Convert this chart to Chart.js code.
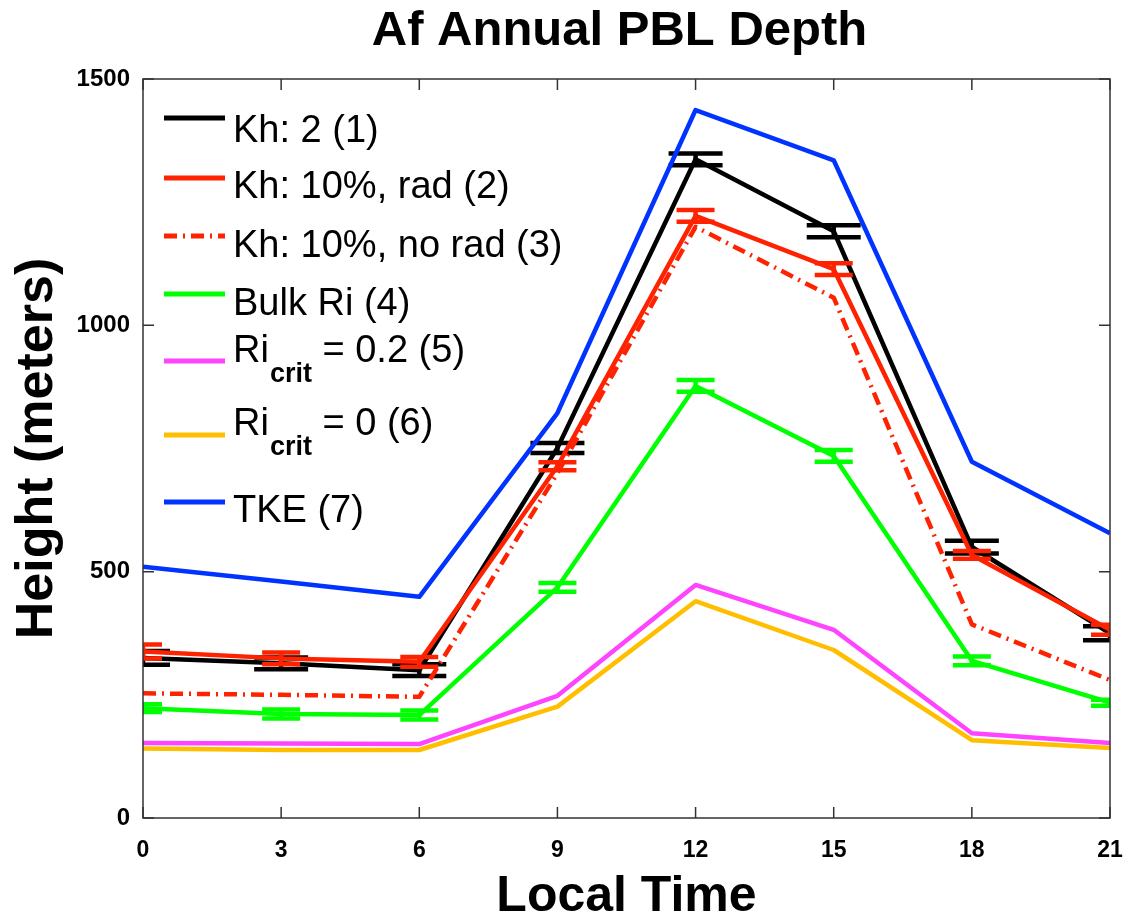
<!DOCTYPE html>
<html><head><meta charset="utf-8">
<script src="https://cdn.jsdelivr.net/npm/chart.js@4.4.0/dist/chart.umd.min.js"></script>
<style>html,body{margin:0;padding:0;background:#fff;}#wrap{width:1127px;height:922px;}</style>
</head><body><div id="wrap"><canvas id="c" width="1127" height="922"></canvas></div>
<script>
// ---- data ----
const chartTitle = 'Af Annual PBL Depth';
const hours = [0, 3, 6, 9, 12, 15, 18, 21];
const xTicks = [0, 3, 6, 9, 12, 15, 18, 21];
const yTicks = [0, 500, 1000, 1500];
const seriesLabels = ["Kh: 2 (1)", "Kh: 10%, rad (2)", "Kh: 10%, no rad (3)", "Bulk Ri (4)", "Ri_{crit} = 0.2 (5)", "Ri_{crit} = 0 (6)", "TKE (7)"];
const kh2 = [325, 314, 300, 751, 1337, 1191, 550, 375];
const kh2Err = [14, 12, 12, 10, 12, 12, 13, 14];
const kh10rad = [338, 324, 317, 714, 1222, 1114, 534, 382];
const kh10radErr = [14, 12, 10, 8, 12, 12, 8, 10];
const kh10norad = [253, 250, 246, 700, 1200, 1056, 393, 280];
const bulkRi = [223, 211, 209, 468, 877, 735, 319, 234];
const bulkRiErr = [8, 9, 9, 9, 12, 12, 9, 6];
const riCrit02 = [152, 151, 150, 248, 473, 382, 172, 152];
const riCrit0 = [141, 138, 138, 226, 440, 341, 158, 142];
const tke = [510, 480, 449, 822, 1437, 1335, 723, 578];

const FONT = "'Liberation Sans', Arial, Helvetica, sans-serif";
const pts = arr => hours.map((h, i) => ({x: h, y: arr[i]}));

const seriesDefs = [
  {vals: kh2, color: '#000000', err: kh2Err, capHalf: 27},
  {vals: kh10rad, color: '#ff2200', err: kh10radErr, capHalf: 19},
  {vals: kh10norad, color: '#ff2200', dash: [13, 6, 2, 6]},
  {vals: bulkRi, color: '#00ff00', err: bulkRiErr, capHalf: 19},
  {vals: riCrit02, color: '#ff44ff'},
  {vals: riCrit0, color: '#ffbf00'},
  {vals: tke, color: '#0033ff'}
];

const datasets = seriesDefs.map((d, i) => ({
  label: seriesLabels[i],
  data: pts(d.vals),
  borderColor: d.color,
  backgroundColor: d.color,
  borderWidth: 4.5,
  borderDash: d.dash || [],
  borderJoinStyle: 'round',
  pointRadius: 0,
  tension: 0,
  fill: false,
  order: seriesDefs.length - i,
  errors: d.err || null,
  capHalf: d.capHalf || 0
}));

// error bars drawn right after their own dataset
const errorBarPlugin = {
  id: 'errorBars',
  afterDatasetDraw(chart, args) {
    const ds = chart.data.datasets[args.index];
    if (!ds.errors) return;
    const {ctx, chartArea: a} = chart;
    const xs = chart.scales.x, ys = chart.scales.y;
    ctx.save();
    ctx.beginPath();
    ctx.rect(a.left, a.top - 10, a.right - a.left, a.bottom - a.top + 20);
    ctx.clip();
    ctx.strokeStyle = ds.borderColor;
    ctx.lineWidth = 4.5;
    ctx.lineCap = 'butt';
    ds.data.forEach((p, i) => {
      const e = ds.errors[i];
      const x = xs.getPixelForValue(p.x);
      const yt = ys.getPixelForValue(p.y + e);
      const yb = ys.getPixelForValue(p.y - e);
      ctx.beginPath();
      ctx.moveTo(x, yt); ctx.lineTo(x, yb);
      ctx.moveTo(x - ds.capHalf, yt); ctx.lineTo(x + ds.capHalf, yt);
      ctx.moveTo(x - ds.capHalf, yb); ctx.lineTo(x + ds.capHalf, yb);
      ctx.stroke();
    });
    ctx.restore();
  }
};

// box frame with inward ticks on all sides, plus title
const framePlugin = {
  id: 'frame',
  afterDatasetsDraw(chart) {
    const {ctx, chartArea: a} = chart;
    const xs = chart.scales.x, ys = chart.scales.y;
    ctx.save();
    ctx.strokeStyle = '#333333';
    ctx.lineWidth = 1.5;
    ctx.strokeRect(a.left, a.top, a.right - a.left, a.bottom - a.top);
    const L = 11;
    ctx.beginPath();
    yTicks.forEach(v => {
      const y = ys.getPixelForValue(v);
      ctx.moveTo(a.left, y); ctx.lineTo(a.left + L, y);
      ctx.moveTo(a.right, y); ctx.lineTo(a.right - L, y);
    });
    xTicks.forEach(v => {
      const x = xs.getPixelForValue(v);
      ctx.moveTo(x, a.bottom); ctx.lineTo(x, a.bottom - L);
      ctx.moveTo(x, a.top); ctx.lineTo(x, a.top + L);
    });
    ctx.stroke();
    // title
    ctx.fillStyle = '#000';
    ctx.font = 'bold 49px ' + FONT;
    ctx.textAlign = 'center';
    ctx.textBaseline = 'middle';
    ctx.fillText(chartTitle, (a.left + a.right) / 2 - 7, 31.5);
    ctx.restore();
  }
};

// legend with subscript support
const legendLineY = [118, 178, 236, 294, 361, 435, 502];
const legendTextY = [142, 198, 257, 315, 362, 435, 522];
const legendPlugin = {
  id: 'customLegend',
  afterDraw(chart) {
    const {ctx} = chart;
    ctx.save();
    chart.data.datasets.forEach((ds, i) => {
      const ly = legendLineY[i];
      ctx.strokeStyle = ds.borderColor;
      ctx.lineWidth = 5;
      ctx.lineCap = 'butt';
      ctx.setLineDash(ds.borderDash || []);
      ctx.beginPath();
      ctx.moveTo(164, ly); ctx.lineTo(225, ly);
      ctx.stroke();
      ctx.setLineDash([]);
      ctx.fillStyle = '#000';
      ctx.textBaseline = 'alphabetic';
      ctx.textAlign = 'left';
      const ty = legendTextY[i];
      const m = ds.label.match(/^(.*)_\{(.*)\}(.*)$/);
      let x = 233;
      if (m) {
        ctx.font = '38px ' + FONT;
        ctx.fillText(m[1], x, ty);
        x += ctx.measureText(m[1]).width + 1;
        ctx.font = 'bold 27px ' + FONT;
        ctx.fillText(m[2], x, ty + 20);
        x += ctx.measureText(m[2]).width;
        ctx.font = '38px ' + FONT;
        ctx.fillText(m[3], x, ty);
      } else {
        ctx.font = '38px ' + FONT;
        ctx.fillText(ds.label, x, ty);
      }
    });
    ctx.restore();
  }
};

new Chart(document.getElementById('c'), {
  type: 'line',
  data: {datasets},
  plugins: [errorBarPlugin, framePlugin, legendPlugin],
  options: {
    responsive: false,
    animation: false,
    devicePixelRatio: 1,
    layout: {padding: {left: 0, right: 17, top: 79, bottom: 0}},
    plugins: {
      legend: {display: false},
      tooltip: {enabled: false},
      title: {display: false}
    },
    scales: {
      x: {
        type: 'linear',
        min: 0, max: 21,
        afterBuildTicks: s => { s.ticks = xTicks.map(v => ({value: v})); },
        afterFit: s => { s.height = 104; s.paddingLeft = 0; s.paddingRight = 0; },
        grid: {display: false, drawTicks: false},
        border: {display: false},
        ticks: {color: '#000', padding: 19, font: {family: FONT, size: 23, weight: 'bold'}, maxRotation: 0,
          callback: v => String(v)},
        title: {display: true, text: 'Local Time', color: '#000',
          font: {family: FONT, size: 50, weight: 'bold', lineHeight: 1}, padding: {top: 0, bottom: 0}}
      },
      y: {
        type: 'linear',
        min: 0, max: 1500,
        afterBuildTicks: s => { s.ticks = yTicks.map(v => ({value: v})); },
        afterFit: s => { s.width = 143; s.paddingTop = 0; s.paddingBottom = 0; },
        grid: {display: false, drawTicks: false},
        border: {display: false},
        ticks: {color: '#000', padding: 13, font: {family: FONT, size: 24, weight: 'bold'},
          callback: v => String(v)},
        title: {display: true, text: 'Height (meters)', color: '#000',
          font: {family: FONT, size: 52, weight: 'bold', lineHeight: 1.2}, padding: {top: 6, bottom: 0}}
      }
    }
  }
});
</script></body></html>
